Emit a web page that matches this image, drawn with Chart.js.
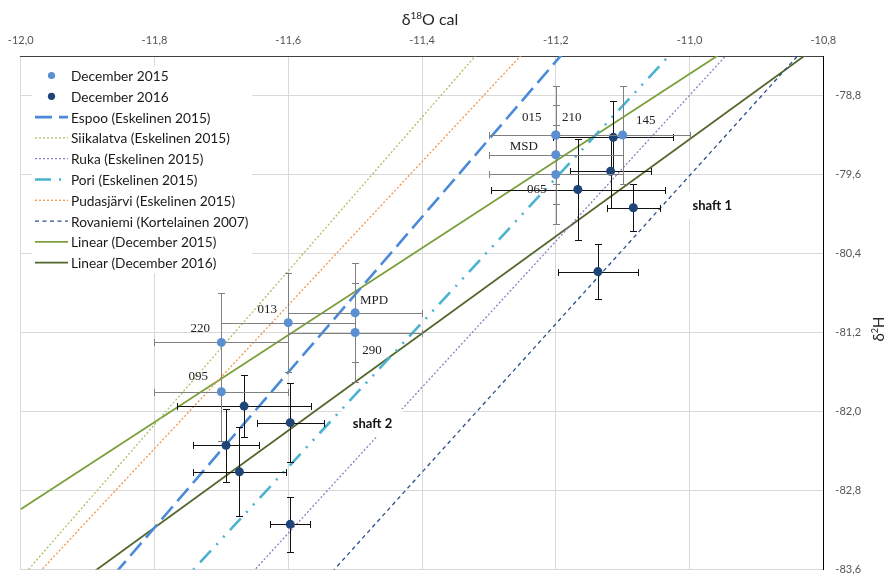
<!DOCTYPE html>
<html>
<head>
<meta charset="utf-8">
<title>δ18O cal vs δ2H</title>
<script src="https://cdn.jsdelivr.net/npm/chart.js@4.4.1/dist/chart.umd.min.js"></script>
<style>
  html, body { margin: 0; padding: 0; background: #fff; }
  #wrap { width: 890px; height: 574px; position: relative; }
</style>
</head>
<body>
<div id="wrap"><canvas id="chart"></canvas></div>
<script>
// axis ticks
const xTickValues = [-12.0, -11.8, -11.6, -11.4, -11.2, -11.0, -10.8];
const yTickValues = [-83.6, -82.8, -82.0, -81.2, -80.4, -79.6, -78.8];

// December 2015 samples (015 and 210 sit on the same spot)
const dec2015Labels = ['015', '210', '145', 'MSD', '065', '220', '095', '013', 'MPD', '290'];
const dec2015X = [-11.2, -11.2, -11.1, -11.2, -11.2, -11.7, -11.7, -11.6, -11.5, -11.5];
const dec2015Y = [-79.2, -79.2, -79.2, -79.4, -79.6, -81.3, -81.8, -81.1, -81.0, -81.2];
const dec2015XErr = [0.1, 0.1, 0.1, 0.1, 0.1, 0.1, 0.1, 0.1, 0.1, 0.1];
const dec2015YErr = [0.5, 0.5, 0.5, 0.5, 0.5, 0.5, 0.5, 0.5, 0.5, 0.5];

// December 2016 samples
const dec2016X = [-11.114, -11.118, -11.167, -11.084, -11.137, -11.666, -11.597, -11.693, -11.673, -11.597];
const dec2016Y = [-79.224, -79.567, -79.752, -79.937, -80.583, -81.945, -82.113, -82.342, -82.611, -83.143];
const dec2016XErr = [0.09, 0.06, 0.13, 0.04, 0.06, 0.10, 0.05, 0.05, 0.07, 0.03];
const dec2016YErr = [0.37, 0.37, 0.51, 0.24, 0.28, 0.31, 0.40, 0.37, 0.45, 0.28];

// meteoric water lines and trendlines, read at the left and right edge
const edgeX = [-12.0, -10.8];
const espooY = [-84.75, -75.31];
const siikalatvaY = [-83.69, -74.35];
const rukaY = [-86.19, -77.32];
const poriY = [-85.49, -76.71];
const pudasjarviY = [-83.83, -75.11];
const rovaniemiY = [-87.12, -78.11];
const linear2015Y = [-82.99, -77.70];
const linear2016Y = [-84.16, -78.26];

// text notes
const shaftNotes = ['shaft 1', 'shaft 2'];
const shaftX = [-10.966, -11.474];
const shaftY = [-79.91, -82.116];

const FONT = "Lato, 'Open Sans', sans-serif";
// label offsets in px from each 2015 point
const labelOffsets = [[-24, -17], [16, -17], [23, -14], [-32, -8], [-19, 15],
                      [-21, -14], [-23, -15], [-21, -13], [19, -12], [17, 18]];

function pts(xs, ys) {
    return xs.map((x, i) => ({ x: x, y: ys[i] }));
}

function lineSet(label, ys, color, width, dash) {
    return {
        label: label,
        data: pts(edgeX, ys),
        showLine: true,
        borderColor: color,
        borderWidth: width,
        borderDash: dash,
        pointRadius: 0,
        order: 2
    };
}

const datasets = [
    {
        label: 'December 2015',
        data: pts(dec2015X, dec2015Y),
        pointRadius: 4.5,
        pointBackgroundColor: '#5b8fd1',
        pointBorderWidth: 0,
        errX: dec2015XErr, errY: dec2015YErr, errColor: '#808080',
        pointLabels: dec2015Labels,
        order: 0
    },
    {
        label: 'December 2016',
        data: pts(dec2016X, dec2016Y),
        pointRadius: 4.5,
        pointBackgroundColor: '#1f4477',
        pointBorderWidth: 0,
        errX: dec2016XErr, errY: dec2016YErr, errColor: '#111111',
        order: 1
    },
    lineSet('Espoo (Eskelinen 2015)', espooY, '#4a8ad8', 2.6, [17, 7]),
    lineSet('Siikalatva (Eskelinen 2015)', siikalatvaY, '#a2c462', 1.3, [2, 2]),
    lineSet('Ruka (Eskelinen 2015)', rukaY, '#9479c4', 1.3, [2, 2]),
    lineSet('Pori (Eskelinen 2015)', poriY, '#4bb3cf', 2.6, [16, 8, 2, 8, 2, 8]),
    lineSet('Pudasjärvi (Eskelinen 2015)', pudasjarviY, '#f4934a', 1.3, [2, 2]),
    lineSet('Rovaniemi (Kortelainen 2007)', rovaniemiY, '#2a4f88', 1.3, [4, 3.5]),
    lineSet('Linear (December 2015)', linear2015Y, '#7ba03b', 1.8, []),
    lineSet('Linear (December 2016)', linear2016Y, '#52672b', 1.8, [])
];

const errorBars = {
    id: 'errorBars',
    beforeDatasetDraw(chart, args) {
        const ds = chart.data.datasets[args.index];
        if (!ds.errX) return;
        const { ctx, scales: { x, y } } = chart;
        const r = v => Math.round(v) + 0.5;
        ctx.save();
        ctx.strokeStyle = ds.errColor;
        ctx.lineWidth = 1;
        ds.data.forEach((p, i) => {
            const px = r(x.getPixelForValue(p.x));
            const py = r(y.getPixelForValue(p.y));
            const x0 = r(x.getPixelForValue(p.x - ds.errX[i]));
            const x1 = r(x.getPixelForValue(p.x + ds.errX[i]));
            const y0 = r(y.getPixelForValue(p.y + ds.errY[i]));
            const y1 = r(y.getPixelForValue(p.y - ds.errY[i]));
            ctx.beginPath();
            ctx.moveTo(x0, py); ctx.lineTo(x1, py);
            ctx.moveTo(px, y0); ctx.lineTo(px, y1);
            ctx.moveTo(x0, py - 3.5); ctx.lineTo(x0, py + 3.5);
            ctx.moveTo(x1, py - 3.5); ctx.lineTo(x1, py + 3.5);
            ctx.moveTo(px - 3.5, y0); ctx.lineTo(px + 3.5, y0);
            ctx.moveTo(px - 3.5, y1); ctx.lineTo(px + 3.5, y1);
            ctx.stroke();
        });
        ctx.restore();
    }
};

// text with a raised part: [base, sup, rest]
function supText(ctx, parts, size, x, y, align) {
    ctx.font = size + 'px ' + FONT;
    const w0 = ctx.measureText(parts[0]).width;
    const w2 = ctx.measureText(parts[2]).width;
    ctx.font = Math.round(size * 0.62) + 'px ' + FONT;
    const w1 = ctx.measureText(parts[1]).width;
    let sx = x;
    if (align === 'center') sx = x - (w0 + w1 + w2) / 2;
    ctx.textAlign = 'left';
    ctx.textBaseline = 'alphabetic';
    ctx.font = size + 'px ' + FONT;
    ctx.fillText(parts[0], sx, y);
    ctx.font = Math.round(size * 0.62) + 'px ' + FONT;
    ctx.fillText(parts[1], sx + w0, y - size * 0.4);
    ctx.font = size + 'px ' + FONT;
    ctx.fillText(parts[2], sx + w0 + w1, y);
}

const overlay = {
    id: 'overlay',
    afterDatasetsDraw(chart) {
        const { ctx, scales: { x, y } } = chart;
        ctx.save();

        // sample labels
        const ds15 = chart.data.datasets[0];
        ctx.font = '13px "Liberation Serif", "Times New Roman", serif';
        ctx.fillStyle = '#222';
        ctx.textAlign = 'center';
        ctx.textBaseline = 'middle';
        ds15.pointLabels.forEach((t, i) => {
            const p = ds15.data[i];
            ctx.fillText(t, x.getPixelForValue(p.x) + labelOffsets[i][0],
                y.getPixelForValue(p.y) + labelOffsets[i][1]);
        });

        // shaft notes on white boxes
        ctx.font = 'bold 13px ' + FONT;
        shaftNotes.forEach((t, i) => {
            const cx = x.getPixelForValue(shaftX[i]);
            const cy = y.getPixelForValue(shaftY[i]);
            const w = ctx.measureText(t).width + 22;
            ctx.fillStyle = '#fff';
            ctx.fillRect(cx - w / 2, cy - 14, w, 28);
            ctx.fillStyle = '#111';
            ctx.fillText(t, cx, cy + 1);
        });

        // legend inside the plot
        ctx.fillStyle = '#fff';
        ctx.fillRect(32, 66, 220, 207);
        ctx.font = '13.7px ' + FONT;
        ctx.textAlign = 'left';
        chart.data.datasets.forEach((d, i) => {
            const ly = 75.5 + i * 20.8;
            if (d.showLine) {
                ctx.save();
                ctx.strokeStyle = d.borderColor;
                ctx.lineWidth = d.borderWidth;
                ctx.setLineDash(d.borderDash);
                ctx.beginPath();
                ctx.moveTo(35, ly);
                ctx.lineTo(68, ly);
                ctx.stroke();
                ctx.restore();
            } else {
                ctx.fillStyle = d.pointBackgroundColor;
                ctx.beginPath();
                ctx.arc(51.5, ly, 3.6, 0, Math.PI * 2);
                ctx.fill();
            }
            ctx.fillStyle = '#1a1a1a';
            ctx.fillText(d.label, 71, ly + 1);
        });
        ctx.restore();
    },
    afterDraw(chart) {
        const ctx = chart.ctx;
        ctx.save();
        ctx.fillStyle = '#262626';
        supText(ctx, ['δ', '18', 'O cal'], 16, 430, 25, 'center');
        ctx.translate(884, 329);
        ctx.rotate(-Math.PI / 2);
        supText(ctx, ['δ', '2', 'H'], 15, 0, 0, 'center');
        ctx.restore();
    }
};

const tickFmt = v => Number(v).toFixed(1).replace('.', ',');

new Chart(document.getElementById('chart'), {
    type: 'scatter',
    data: { datasets: datasets },
    options: {
        responsive: true,
        maintainAspectRatio: false,
        animation: false,
        devicePixelRatio: 1,
        layout: { padding: { left: 20.7, right: 0, top: 0, bottom: 2.5 } },
        plugins: {
            legend: { display: false },
            tooltip: { enabled: false }
        },
        scales: {
            x: {
                type: 'linear',
                position: 'top',
                min: -12.0,
                max: -10.8,
                afterBuildTicks: s => { s.ticks = xTickValues.map(v => ({ value: v })); },
                afterFit: s => {
                    s.height = 56;
                    s.paddingLeft = 0;
                    s.paddingRight = 0;
                },
                grid: { color: '#d9d9d9', drawTicks: false },
                border: { display: true, color: '#404040', width: 1 },
                ticks: {
                    padding: 9,
                    autoSkip: false,
                    maxRotation: 0,
                    color: '#555',
                    font: { family: FONT, size: 11 },
                    callback: tickFmt
                }
            },
            y: {
                type: 'linear',
                position: 'right',
                min: -83.6,
                max: -78.4,
                afterBuildTicks: s => { s.ticks = yTickValues.map(v => ({ value: v })); },
                afterFit: s => {
                    s.width = 66.7;
                    s.paddingTop = 0;
                    s.paddingBottom = 0;
                },
                grid: { color: '#d9d9d9', drawTicks: false },
                border: { display: true, color: '#000', width: 1 },
                ticks: {
                    padding: 12,
                    autoSkip: false,
                    color: '#555',
                    font: { family: FONT, size: 11 },
                    callback: tickFmt
                }
            }
        }
    },
    plugins: [errorBars, overlay]
});
</script>
</body>
</html>
